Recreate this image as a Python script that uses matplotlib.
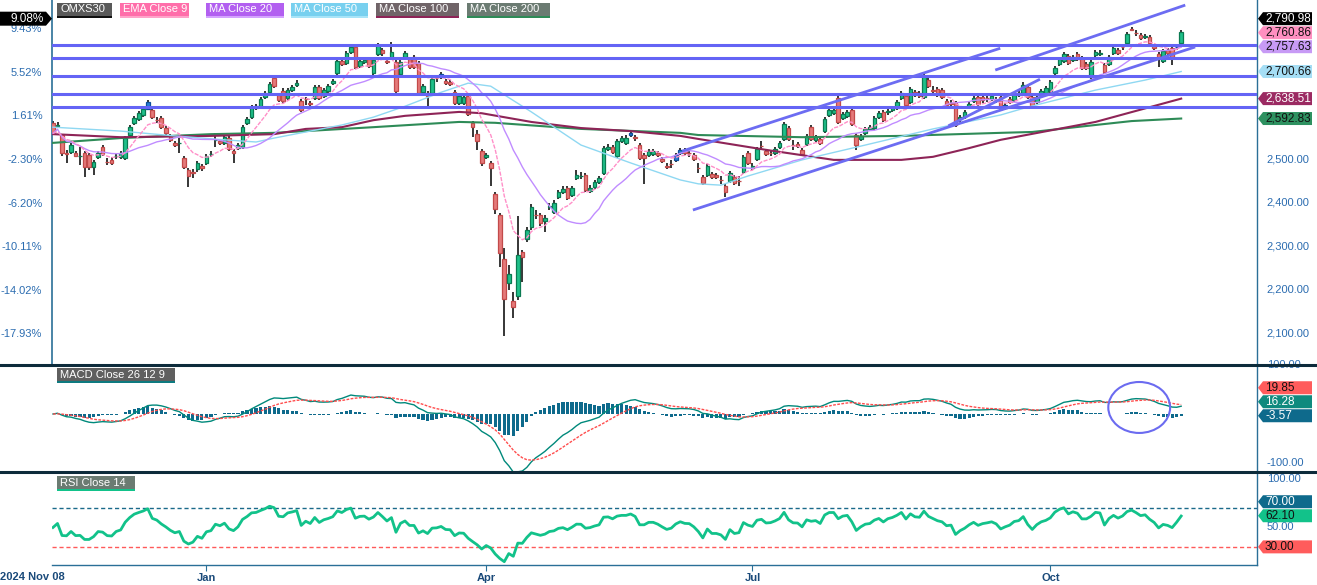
import numpy as np
import pandas as pd
import matplotlib
matplotlib.use('Agg')
import matplotlib.pyplot as plt
from matplotlib.patches import Rectangle, Polygon, Ellipse
from matplotlib.lines import Line2D
from matplotlib.transforms import IdentityTransform, blended_transform_factory

plt.rcParams['font.family'] = ['Liberation Sans', 'DejaVu Sans']

# ---------------- data (OMXS30 daily, from 2024-11-08) ----------------
open_ = [2582, 2576, 2555, 2513, 2516, 2514, 2506, 2514, 2509, 2482,
         2505, 2528, 2494, 2498, 2507, 2505, 2502, 2555, 2582, 2592,
         2601, 2615, 2612, 2590, 2594, 2571, 2553, 2537, 2536, 2502,
         2475, 2470, 2477, 2484, 2491, 2511, 2543, 2541, 2537, 2548,
         2518, 2525, 2528, 2582, 2596, 2617, 2619, 2642, 2654, 2686,
         2647, 2656, 2640, 2658, 2670, 2633, 2638, 2628, 2640, 2665,
         2644, 2656, 2674, 2697, 2725, 2720, 2745, 2757, 2713, 2722,
         2729, 2697, 2741, 2750, 2725, 2731, 2722, 2695, 2734, 2729,
         2734, 2720, 2654, 2651, 2651, 2686, 2688, 2679, 2677, 2654,
         2628, 2628, 2644, 2582, 2557, 2518, 2505, 2491, 2420, 2372,
         2271, 2216, 2175, 2186, 2287, 2317, 2344, 2372, 2372, 2358,
         2390, 2379, 2413, 2424, 2434, 2418, 2456, 2461, 2463, 2427,
         2436, 2447, 2468, 2523, 2528, 2507, 2541, 2537, 2555, 2550,
         2532, 2509, 2509, 2511, 2514, 2500, 2484, 2489, 2498, 2514,
         2521, 2514, 2509, 2480, 2459, 2463, 2466, 2463, 2452, 2438,
         2450, 2459, 2450, 2470, 2514, 2479, 2500, 2530, 2518, 2514,
         2514, 2528, 2546, 2571, 2532, 2534, 2521, 2534, 2573, 2544,
         2546, 2564, 2601, 2605, 2640, 2594, 2599, 2612, 2555, 2546,
         2560, 2569, 2571, 2596, 2608, 2608, 2612, 2617, 2640, 2644,
         2631, 2654, 2651, 2642, 2681, 2658, 2660, 2658, 2633, 2628,
         2628, 2592, 2596, 2619, 2633, 2642, 2642, 2640, 2638, 2635,
         2642, 2617, 2638, 2635, 2647, 2651, 2665, 2642, 2631, 2649,
         2651, 2656, 2697, 2718, 2725, 2736, 2727, 2741, 2731, 2718,
         2688, 2738, 2741, 2715, 2718, 2743, 2750, 2757, 2766, 2798,
         2789, 2784, 2780, 2780, 2759, 2741, 2725, 2750, 2754, 2757,
         2766]
high = [2587, 2585, 2557, 2521, 2537, 2518, 2527, 2518, 2514, 2498,
        2518, 2532, 2502, 2505, 2514, 2518, 2553, 2578, 2598, 2610,
        2619, 2635, 2617, 2596, 2598, 2576, 2557, 2541, 2548, 2507,
        2479, 2477, 2495, 2489, 2511, 2518, 2560, 2546, 2555, 2553,
        2523, 2537, 2578, 2596, 2624, 2626, 2642, 2656, 2676, 2690,
        2651, 2663, 2663, 2670, 2681, 2638, 2642, 2633, 2670, 2670,
        2663, 2672, 2683, 2729, 2729, 2747, 2761, 2761, 2731, 2734,
        2734, 2731, 2766, 2754, 2729, 2768, 2727, 2727, 2747, 2734,
        2738, 2725, 2672, 2656, 2688, 2690, 2699, 2683, 2681, 2658,
        2649, 2647, 2649, 2587, 2566, 2523, 2514, 2495, 2424, 2376,
        2296, 2257, 2195, 2369, 2292, 2344, 2397, 2383, 2376, 2372,
        2399, 2406, 2429, 2438, 2438, 2438, 2475, 2470, 2468, 2440,
        2452, 2461, 2530, 2534, 2532, 2546, 2553, 2555, 2566, 2555,
        2537, 2514, 2523, 2523, 2518, 2505, 2491, 2498, 2514, 2525,
        2525, 2521, 2514, 2491, 2463, 2489, 2470, 2468, 2461, 2443,
        2473, 2463, 2461, 2509, 2518, 2491, 2528, 2541, 2523, 2521,
        2528, 2541, 2585, 2576, 2544, 2539, 2525, 2557, 2578, 2555,
        2550, 2596, 2617, 2617, 2644, 2608, 2612, 2617, 2560, 2557,
        2573, 2578, 2598, 2610, 2612, 2615, 2621, 2635, 2656, 2649,
        2665, 2658, 2656, 2695, 2686, 2667, 2665, 2663, 2638, 2635,
        2633, 2601, 2612, 2631, 2644, 2651, 2649, 2649, 2651, 2642,
        2651, 2628, 2642, 2651, 2658, 2676, 2670, 2647, 2647, 2660,
        2667, 2681, 2713, 2734, 2745, 2741, 2738, 2745, 2736, 2722,
        2727, 2750, 2750, 2720, 2738, 2759, 2754, 2764, 2791, 2802,
        2796, 2789, 2786, 2784, 2764, 2745, 2752, 2754, 2759, 2764,
        2796]
low = [2557, 2571, 2507, 2491, 2511, 2505, 2486, 2459, 2475, 2463,
       2500, 2507, 2486, 2486, 2500, 2500, 2498, 2550, 2578, 2587,
       2596, 2612, 2592, 2582, 2569, 2555, 2539, 2528, 2514, 2477,
       2436, 2457, 2470, 2473, 2486, 2505, 2528, 2532, 2532, 2518,
       2491, 2521, 2523, 2578, 2592, 2612, 2615, 2637, 2649, 2663,
       2631, 2628, 2635, 2654, 2665, 2608, 2624, 2619, 2635, 2635,
       2640, 2651, 2670, 2693, 2713, 2715, 2741, 2706, 2709, 2718,
       2709, 2693, 2736, 2736, 2718, 2727, 2651, 2690, 2729, 2706,
       2706, 2647, 2649, 2621, 2647, 2677, 2683, 2670, 2667, 2624,
       2624, 2624, 2599, 2550, 2521, 2484, 2500, 2438, 2374, 2253,
       2095, 2200, 2136, 2177, 2218, 2310, 2337, 2363, 2347, 2333,
       2383, 2374, 2408, 2420, 2406, 2413, 2452, 2454, 2424, 2422,
       2431, 2443, 2463, 2518, 2511, 2502, 2537, 2532, 2550, 2541,
       2498, 2443, 2505, 2507, 2505, 2491, 2477, 2479, 2493, 2509,
       2509, 2505, 2495, 2468, 2440, 2459, 2454, 2454, 2443, 2413,
       2445, 2440, 2438, 2466, 2486, 2475, 2495, 2521, 2507, 2507,
       2509, 2523, 2541, 2541, 2521, 2525, 2507, 2530, 2541, 2539,
       2532, 2560, 2596, 2601, 2580, 2589, 2594, 2576, 2521, 2541,
       2555, 2564, 2566, 2592, 2585, 2601, 2608, 2612, 2635, 2619,
       2626, 2642, 2640, 2638, 2663, 2649, 2642, 2637, 2619, 2621,
       2573, 2580, 2592, 2615, 2628, 2621, 2628, 2631, 2633, 2628,
       2610, 2612, 2626, 2631, 2642, 2647, 2638, 2617, 2626, 2644,
       2647, 2651, 2693, 2713, 2720, 2715, 2722, 2725, 2704, 2704,
       2683, 2734, 2736, 2695, 2713, 2738, 2738, 2750, 2761, 2793,
       2782, 2773, 2775, 2761, 2750, 2711, 2720, 2738, 2715, 2750,
       2761]
close = [2558.85, 2578, 2514, 2512, 2532, 2507, 2508, 2482, 2482, 2493,
         2514, 2511, 2493, 2491, 2508, 2514, 2548, 2573, 2594, 2605,
         2615, 2631, 2596, 2589, 2573, 2560, 2544, 2532, 2537, 2482,
         2461, 2468, 2491, 2479, 2507, 2512, 2544, 2537, 2550, 2523,
         2514, 2532, 2573, 2592, 2619, 2622, 2637, 2651, 2672, 2667,
         2635, 2633, 2658, 2665, 2674, 2612, 2637, 2626, 2665, 2640,
         2658, 2667, 2679, 2725, 2718, 2743, 2757, 2711, 2725, 2727,
         2713, 2727, 2761, 2743, 2722, 2745, 2656, 2722, 2743, 2711,
         2711, 2651, 2667, 2644, 2683, 2685, 2695, 2674, 2672, 2628,
         2644, 2642, 2603, 2573, 2541, 2491, 2509, 2479, 2386, 2285,
         2179, 2237, 2161, 2280, 2276, 2337, 2390, 2371, 2353, 2365,
         2392, 2399, 2424, 2431, 2411, 2434, 2463, 2462, 2429, 2434,
         2447, 2456, 2525, 2528, 2516, 2541, 2548, 2548, 2560, 2548,
         2502, 2502, 2518, 2518, 2509, 2495, 2482, 2488, 2509, 2521,
         2514, 2513, 2500, 2479, 2445, 2484, 2459, 2459, 2451, 2424,
         2468, 2445, 2449, 2505, 2491, 2484, 2523, 2529, 2511, 2513,
         2523, 2537, 2580, 2546, 2531, 2530, 2511, 2553, 2546, 2550,
         2537, 2592, 2612, 2612, 2585, 2603, 2608, 2580, 2532, 2553,
         2569, 2573, 2594, 2605, 2589, 2609, 2617, 2631, 2651, 2624,
         2660, 2647, 2645, 2690, 2667, 2657, 2647, 2642, 2624, 2627,
         2578, 2596, 2608, 2626, 2640, 2626, 2635, 2639, 2644, 2636,
         2615, 2624, 2631, 2647, 2651, 2670, 2642, 2621, 2642, 2656,
         2663, 2676, 2709, 2729, 2741, 2720, 2734, 2729, 2709, 2709,
         2722, 2745, 2743, 2699, 2734, 2754, 2743, 2756, 2786, 2797,
         2788, 2777, 2782, 2766, 2754, 2731, 2747, 2743, 2734, 2758,
         2790.98]
blue_idx = [21, 45, 86, 128, 138, 139, 209, 211, 249]

# moving averages (index, value)
ma50_idx = [0, 15, 27, 38, 45, 49, 56, 64, 71, 78, 86, 92, 97, 106, 117, 128,
            139, 143, 148, 154, 166, 180, 195, 210, 216, 231, 242, 250]
ma50_val = [2573, 2564, 2553, 2544, 2539, 2548, 2562, 2578, 2596, 2621, 2653,
            2674, 2667, 2608, 2532, 2491, 2452, 2443, 2440, 2461, 2498, 2532,
            2569, 2601, 2619, 2658, 2681, 2700.66]
ma100_idx = [0, 15, 35, 49, 56, 64, 71, 78, 90, 95, 106, 117, 128, 139, 143,
             158, 173, 188, 195, 203, 210, 231, 250]
ma100_val = [2557, 2550, 2553, 2557, 2569, 2573, 2589, 2599, 2608, 2605, 2585,
             2571, 2564, 2553, 2546, 2521, 2498, 2498, 2505, 2525, 2544, 2585,
             2638.51]
ma200_idx = [0, 15, 35, 49, 56, 71, 90, 98, 117, 139, 143, 166, 188, 210, 217,
             231, 239, 250]
ma200_val = [2537, 2548, 2557, 2560, 2564, 2573, 2585, 2583, 2569, 2560, 2555,
             2550, 2553, 2560, 2562, 2578, 2587, 2592.83]

# drawn horizontal levels and trend channels
levels = [2761, 2732, 2691, 2650, 2620]
trend_x0 = [139.4, 141.8, 198.4, 208.8]
trend_p0 = [2518, 2383, 2576, 2704]
trend_x1 = [209.9, 253.1, 218.7, 250.9]
trend_p1 = [2754, 2757, 2683, 2853]

pct_ticks = [2800, 2700, 2600, 2500, 2400, 2300, 2200, 2100]
pct_labels = ['9.43%', '5.52%', '1.61%', '-2.30%', '-6.20%', '-10.11%', '-14.02%', '-17.93%']
price_ticks = [2500, 2400, 2300, 2200, 2100]

legend_names = ['OMXS30', 'EMA Close 9', 'MA Close 20', 'MA Close 50', 'MA Close 100', 'MA Close 200']
main_tag_vals = [2790.98, 2760.86, 2757.63, 2700.66, 2638.51, 2592.83]
macd_tag_vals = [19.85, 16.28, -3.57]
rsi_tag_vals = [70.00, 62.10, 30.00]
last_pct = '9.08%'

holidays = ['2024-12-24', '2024-12-25', '2024-12-26', '2024-12-31', '2025-01-01',
            '2025-01-06', '2025-04-18', '2025-04-21', '2025-05-01', '2025-05-29',
            '2025-06-06', '2025-06-20']

# ---------------- computations ----------------
n = len(close)
idx = np.arange(n)
dates = pd.bdate_range('2024-11-08', periods=n, freq='C', holidays=holidays)
cs = pd.Series(close)
ema9 = cs.ewm(span=9, adjust=False).mean()
ma20 = cs.rolling(20, min_periods=1).mean()
ema12 = cs.ewm(span=12, adjust=False).mean()
ema26 = cs.ewm(span=26, adjust=False).mean()
macd = ema12 - ema26
signal = macd.ewm(span=9, adjust=False).mean()
hist = macd - signal

d = np.diff(close)
g = np.clip(d, 0, None)
l = np.clip(-d, 0, None)
seed = np.mean(np.abs(d[:14])) / 2
ag, al = seed, seed
rsi = [50.0]
for gi, li in zip(g, l):
    ag = (ag * 13 + gi) / 14
    al = (al * 13 + li) / 14
    rsi.append(100 - 100 / (1 + ag / al))
rsi = np.array(rsi)

# ---------------- figure ----------------
W, H = 1317, 585
fig = plt.figure(figsize=(W / 100, H / 100), dpi=100)
fig.patch.set_facecolor('white')

def px_axes(x0, y_top, x1, y_bot):
    return fig.add_axes([x0 / W, (H - y_bot) / H, (x1 - x0) / W, (y_bot - y_top) / H])

ax = px_axes(52, 0, 1257, 365)
ax2 = px_axes(52, 365, 1257, 472)
ax3 = px_axes(52, 472, 1257, 565)

XL = (-0.22, 266.8)
axis_col = '#2a6f97'
lab_col = '#2b6cb0'
for a in (ax, ax2, ax3):
    a.set_xlim(*XL)
    a.set_facecolor('white')
    for s in a.spines.values():
        s.set_visible(False)
    a.spines['right'].set_visible(True)
    a.spines['right'].set_color(axis_col)
    a.spines['right'].set_linewidth(1.0)
    a.set_xticks([])

# ---- main price panel ----
ax.set_ylim(2027.5, 2864.7)
ax.spines['left'].set_visible(True)
ax.spines['left'].set_color(axis_col)
ax.spines['left'].set_linewidth(1.2)
ax.set_yticks(pct_ticks)
ax.set_yticklabels(pct_labels)
ax.tick_params(axis='y', length=0, pad=7, labelsize=8, labelcolor=lab_col)

o = np.array(open_, float); c = np.array(close, float)
h = np.array(high, float); lo = np.array(low, float)
up = c >= o
body_col = np.where(up, '#1fc08a', '#e57a7a').astype(object)
edge_col = np.where(up, '#0b7a52', '#c24a4a').astype(object)
for b in blue_idx:
    body_col[b] = '#2a7fd4'; edge_col[b] = '#0d4f9c'
ax.vlines(idx, lo, h, color='black', lw=1.1, zorder=2)
bot = np.minimum(o, c)
hgt = np.maximum(np.abs(c - o), 0.6)
ax.bar(idx, hgt, bottom=bot, width=0.8, color=list(body_col),
       edgecolor=list(edge_col), linewidth=0.9, zorder=3)

ax.plot(ma200_idx, ma200_val, color='#2e8b57', lw=1.5, zorder=4)
ax.plot(ma100_idx, ma100_val, color='#8e2457', lw=1.5, zorder=4)
ax.plot(ma50_idx, ma50_val, color='#8fd8f2', lw=1.0, zorder=4)
ax.plot(idx, ma20, color='#c08cff', lw=1.0, zorder=4)
ax.plot(idx, ema9, color='#ff8fc8', lw=1.0, ls=(0, (3, 1)), zorder=4)

for lv in levels:
    ax.axhline(lv, color='#6464f5', lw=2.2, zorder=5)
for x0, p0, x1, p1 in zip(trend_x0, trend_p0, trend_x1, trend_p1):
    ax.plot([x0, x1], [p0, p1], color='#6c6cf2', lw=2.0, zorder=5, solid_capstyle='butt')

tr = blended_transform_factory(ax.transAxes, ax.transData)
for v in price_ticks:
    ax.text(1.008, v, f'{v:,.2f}', transform=tr, ha='left', va='center',
            fontsize=8, color=lab_col, clip_on=False)

# ---- MACD panel ----
ax2.set_ylim(-118.4, 100)
ax2.set_yticks([])
ax2.bar(idx, hist, width=0.7, color='#0e6a8c', zorder=2)
ax2.plot(idx, macd, color='#00897b', lw=1.0, zorder=3)
ax2.plot(idx, signal, color='#ff4d4d', lw=1.0, ls=(0, (2, 1)), zorder=3)
ax2.add_patch(Ellipse((240.7, 13.3), 13.7, 104, fill=False, ec='#6b6bf0', lw=1.5, zorder=5))
tr2 = blended_transform_factory(ax2.transAxes, ax2.transData)
for v in (100, -100):
    ax2.text(1.008, v, f'{v:.2f}', transform=tr2, ha='left', va='center',
             fontsize=8, color=lab_col, clip_on=False)

# ---- RSI panel ----
ax3.set_ylim(11.3, 107.2)
ax3.set_yticks([])
ax3.spines['bottom'].set_visible(True)
ax3.spines['bottom'].set_color(axis_col)
ax3.spines['bottom'].set_linewidth(1.0)
ax3.axhline(70, color='#1a6a8a', lw=1.0, ls=(0, (3, 2)), zorder=2)
ax3.axhline(30, color='#ff5a5a', lw=1.0, ls=(0, (3, 2)), zorder=2)
ax3.plot(idx, rsi, color='#12c28a', lw=2.0, zorder=3)
tr3 = blended_transform_factory(ax3.transAxes, ax3.transData)
for v in (100, 50):
    ax3.text(1.008, v, f'{v:.2f}', transform=tr3, ha='left', va='center',
             fontsize=8, color=lab_col, clip_on=False)

tick_pos, tick_lab = [], []
for i in range(1, n):
    if dates[i].month != dates[i - 1].month and dates[i].month in (1, 4, 7, 10):
        tick_pos.append(i); tick_lab.append(dates[i].strftime('%b'))
ax3.set_xticks(tick_pos)
ax3.set_xticklabels(tick_lab, fontweight='bold', fontsize=8, color='#1a4a7a')
ax3.tick_params(axis='x', length=4, color=axis_col, pad=2)
fig.text(0.5 / W, (H - 577) / H, dates[0].strftime('%Y %b %d'), ha='left', va='center',
         fontsize=8, fontweight='bold', color='#1a4a7a')

# ---- separators ----
for yy in (365, 472):
    fig.add_artist(Line2D([0, 1], [(H - yy) / H] * 2, transform=fig.transFigure,
                          color='#0d2b3b', lw=2.2, zorder=10))

# ---- legend boxes ----
I = IdentityTransform()
leg_x = [(57, 112), (120, 189), (206, 284), (291, 368), (376, 459), (467, 550)]
leg_bg = ['#595959', '#ff6eaa', '#b25ff0', '#78d0ef', '#706468', '#6b7b72']
leg_ul = ['#111111', '#ffa3c9', '#d4a3ff', '#a8e4f8', '#8e2457', '#2e8b57']

def label_box(x0, x1, ytop, ybot, bg, ul, text, fs=8):
    fig.add_artist(Rectangle((x0, H - ybot), x1 - x0, ybot - ytop, transform=I,
                             facecolor=bg, edgecolor='none', zorder=20))
    fig.add_artist(Rectangle((x0, H - ybot - 2), x1 - x0, 2, transform=I,
                             facecolor=ul, edgecolor='none', zorder=20))
    fig.text((x0 + 3) / W, (H - (ytop + ybot) / 2) / H, text, ha='left', va='center',
             fontsize=fs, color='white', zorder=21)

for (x0, x1), bg, ul, nm in zip(leg_x, leg_bg, leg_ul, legend_names):
    label_box(x0, x1, 3, 16, bg, ul, nm)
label_box(57, 175, 368, 381, '#5f5f5f', '#0e7a80', 'MACD Close 26 12 9')
label_box(57, 135, 476, 489, '#6b7b72', '#12c28a', 'RSI Close 14')

# ---- value tags on the right ----
def resolve(axis, vals, hgap=14):
    ys = [H - axis.transData.transform((0, v))[1] for v in vals]  # top-based px
    order = np.argsort(ys)[::-1]
    out = list(ys)
    prev = None
    for k in order:
        if prev is not None:
            out[k] = min(out[k], prev - hgap)
        prev = out[k]
    return out

def right_tag(yc, bg, fg, text, x0=1258, w=54, hh=13):
    yd = H - yc
    pts = [(x0, yd), (x0 + 5, yd + hh / 2), (x0 + w, yd + hh / 2),
           (x0 + w, yd - hh / 2), (x0 + 5, yd - hh / 2)]
    fig.add_artist(Polygon(pts, closed=True, transform=I, facecolor=bg,
                           edgecolor='none', zorder=20))
    fig.text((x0 + 7) / W, yd / H, text, ha='left', va='center', fontsize=8.5,
             color=fg, zorder=21)

main_bg = ['#000000', '#ff8fc0', '#c79af5', '#a5def5', '#9b2a62', '#2e9160']
main_fg = ['white', '#111111', '#111111', '#111111', 'white', '#111111']
ys = resolve(ax, main_tag_vals)
for y, bg, fg, v in zip(ys, main_bg, main_fg, main_tag_vals):
    right_tag(y, bg, fg, f'{v:,.2f}')

macd_bg = ['#ff5c5c', '#0f8a7e', '#0e6a8c']
macd_fg = ['#111111', 'white', 'white']
ys = resolve(ax2, macd_tag_vals)
for y, bg, fg, v in zip(ys, macd_bg, macd_fg, macd_tag_vals):
    right_tag(y, bg, fg, f'{v:.2f}')

rsi_bg = ['#0e6a8c', '#12c28a', '#ff5c5c']
rsi_fg = ['white', '#111111', '#111111']
ys = resolve(ax3, rsi_tag_vals)
for y, bg, fg, v in zip(ys, rsi_bg, rsi_fg, rsi_tag_vals):
    right_tag(y, bg, fg, f'{v:.2f}')

# left percentage tag
ytag = resolve(ax, main_tag_vals)[0]
yd = H - ytag
pts = [(0, yd + 7), (46, yd + 7), (52, yd), (46, yd - 7), (0, yd - 7)]
fig.add_artist(Polygon(pts, closed=True, transform=I, facecolor='black',
                       edgecolor='none', zorder=20))
fig.text(44 / W, yd / H, last_pct, ha='right', va='center', fontsize=8.5,
         color='white', zorder=21)

fig.savefig('out.png', dpi=100, facecolor='white')
